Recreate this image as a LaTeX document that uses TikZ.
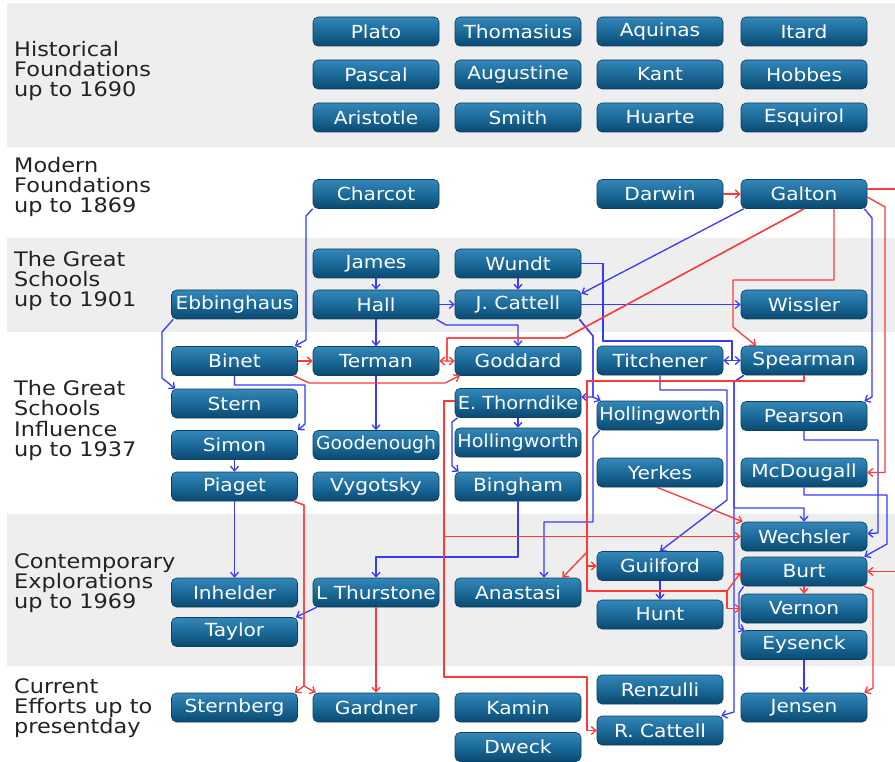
\documentclass[tikz,border=0pt]{standalone}
\usepackage{fontspec}
\setmainfont[FakeStretch=1.12]{DejaVu Sans}
\usepackage{graphicx}
\usetikzlibrary{arrows.meta}

\definecolor{bandgray}{HTML}{EEEEEE}
\definecolor{boxtop}{HTML}{3487B8}
\definecolor{boxmid}{HTML}{1B6A9A}
\definecolor{boxbot}{HTML}{0A4970}
\definecolor{boxedge}{HTML}{0B4062}
\definecolor{linkblue}{HTML}{3838FF}
\definecolor{linkred}{HTML}{FF3838}
\definecolor{labeltext}{HTML}{222222}

\begin{document}
\begin{tikzpicture}[x=1pt,y=-1pt,
  person/.style={rectangle, rounded corners=5pt, minimum width=126pt,
    minimum height=29pt, inner sep=0pt, top color=boxtop, bottom color=boxbot,
    middle color=boxmid, draw=boxedge, line width=0.6pt, text=white,
    font=\fontsize{18}{20}\selectfont},
  era/.style={anchor=base west, inner sep=0pt, text=labeltext,
    font=\fontsize{20}{20}\selectfont},
  link/.style={line width=1.3pt, line join=round,
    -{Straight Barb[length=4.5pt,width=8pt]}},
  bl/.style={link, draw=linkblue},
  rd/.style={link, draw=linkred}]

\useasboundingbox (0,0) rectangle (895,762);

% period bands
\fill[bandgray] (7,3) rectangle (895,147);
\fill[bandgray] (7,238) rectangle (895,332);
\fill[bandgray] (7,514) rectangle (895,666);

% period labels
\node[era] (h1) at (14,57) {Historical};
\node[era] (h2) at (14,77) {Foundations};
\node[era] (h3) at (14,97) {up to 1690};
\node[era] (m1) at (14,173) {Modern};
\node[era] (m2) at (14,193) {Foundations};
\node[era] (m3) at (14,213) {up to 1869};
\node[era] (g1) at (14,267) {The Great};
\node[era] (g2) at (14,287) {Schools};
\node[era] (g3) at (14,307) {up to 1901};
\node[era] (i1) at (14,395) {The Great};
\node[era] (i2) at (14,415) {Schools};
\node[era] (i3) at (14,436) {Influence};
\node[era] (i4) at (14,456) {up to 1937};
\node[era] (c1) at (14,568) {Contemporary};
\node[era] (c2) at (14,588) {Explorations};
\node[era] (c3) at (14,608) {up to 1969};
\node[era] (p1) at (14,693) {Current};
\node[era] (p2) at (14,713) {Efforts up to};
\node[era] (p3) at (14,733) {presentday};

% historical foundations
\node[person] (plato) at (376,31.5) {Plato};
\node[person] (thomasius) at (518,31.5) {Thomasius};
\node[person] (aquinas) at (660,31.5) {Aquinas};
\node[person] (itard) at (804,31.5) {Itard};
\node[person] (pascal) at (376,74.5) {Pascal};
\node[person] (augustine) at (518,74.5) {Augustine};
\node[person] (kant) at (660,74.5) {Kant};
\node[person] (hobbes) at (804,74.5) {Hobbes};
\node[person] (aristotle) at (376,117.5) {Aristotle};
\node[person] (smith) at (518,117.5) {Smith};
\node[person] (huarte) at (660,117.5) {Huarte};
\node[person] (esquirol) at (804,117.5) {Esquirol};

% modern foundations
\node[person] (charcot) at (376,194) {Charcot};
\node[person] (darwin) at (660,194) {Darwin};
\node[person] (galton) at (804,194) {Galton};

% great schools
\node[person] (james) at (376,263.5) {James};
\node[person] (wundt) at (518,263.5) {Wundt};
\node[person] (ebbinghaus) at (234.5,304.5) {Ebbinghaus};
\node[person] (hall) at (376,304.5) {Hall};
\node[person] (jcattell) at (518,304.5) {J. Cattell};
\node[person] (wissler) at (804,304.5) {Wissler};

% influence
\node[person] (binet) at (234.5,361) {Binet};
\node[person] (terman) at (376,361) {Terman};
\node[person] (goddard) at (518,361) {Goddard};
\node[person] (titchener) at (660,360.5) {Titchener};
\node[person] (spearman) at (804,360.5) {Spearman};
\node[person] (stern) at (234.5,403.5) {Stern};
\node[person] (ethorndike) at (518,403) {\scalebox{0.96}[1]{E. Thorndike}};
\node[person] (hollD) at (660,415.5) {\scalebox{0.95}[1]{Hollingworth}};
\node[person] (pearson) at (804,416) {Pearson};
\node[person] (simon) at (234.5,445) {Simon};
\node[person] (goodenough) at (376,445) {\scalebox{0.93}[1]{Goodenough}};
\node[person] (hollC) at (518,442.5) {\scalebox{0.95}[1]{Hollingworth}};
\node[person] (piaget) at (234.5,486.5) {Piaget};
\node[person] (vygotsky) at (376,486.5) {Vygotsky};
\node[person] (bingham) at (518,486.5) {Bingham};
\node[person] (yerkes) at (660,472.5) {Yerkes};
\node[person] (mcdougall) at (804,472.5) {McDougall};

% contemporary
\node[person] (wechsler) at (804,536.5) {Wechsler};
\node[person] (burt) at (804,571.5) {Burt};
\node[person] (guilford) at (660,566) {Guilford};
\node[person] (hunt) at (660,614.5) {Hunt};
\node[person] (vernon) at (804,608.5) {Vernon};
\node[person] (eysenck) at (804,645) {Eysenck};
\node[person] (inhelder) at (234.5,592.5) {Inhelder};
\node[person] (thurstone) at (376,592.5) {L Thurstone};
\node[person] (anastasi) at (518,592.5) {Anastasi};
\node[person] (taylor) at (234.5,632) {Taylor};

% current
\node[person] (sternberg) at (234.5,707.5) {Sternberg};
\node[person] (gardner) at (376,707.5) {Gardner};
\node[person] (kamin) at (518,707.5) {Kamin};
\node[person] (dweck) at (518,747) {Dweck};
\node[person] (renzulli) at (660,689.5) {Renzulli};
\node[person] (rcattell) at (660,730.5) {R. Cattell};
\node[person] (jensen) at (804,707.5) {Jensen};

% blue links
\draw[bl] (charcot.south west) -- (306,216) -- (306,340) -- ([xshift=-3pt]binet.north east);
\draw[bl] (james.south) -- (hall.north);
\draw[bl] (wundt.south) -- (jcattell.north);
\draw[bl] (hall.east) -- (jcattell.west);
\draw[bl] ([xshift=-3pt]hall.south east) -- (446,325) -- (518,325) -- (goddard.north);
\draw[bl] (hall.south) -- (terman.north);
\draw[bl] ([xshift=3pt]galton.south west) -- ([yshift=-4pt]jcattell.north east);
\draw[bl] (wundt.east) -- (603,263.5) -- (603,341) -- (732,341) -- (732,360.5) -- (titchener.east);
\draw[bl] (wundt.east) -- (603,263.5) -- (603,341) -- (732,341) -- (732,360.5) -- (spearman.west);
\draw[bl] (jcattell.east) -- (wissler.west);
\draw[bl] ([xshift=-2pt]jcattell.south east) -- (593,336) -- (593,397) -- ([yshift=6pt]ethorndike.east);
\draw[bl] ([xshift=-2pt]jcattell.south east) -- (593,336) -- (593,397) -- ([xshift=4pt]hollD.north west);
\draw[bl] (ethorndike.south) -- (hollC.north);
\draw[bl] ([xshift=3pt]ethorndike.south west) -- (452,422) -- (452,466) -- ([xshift=4pt]bingham.north west);
\draw[bl] (terman.south) -- (goodenough.north);
\draw[bl] (binet.south) -- (234.5,385) -- (305,385) -- (305,424) -- (simon.north east);
\draw[bl] ([xshift=2pt]ebbinghaus.south west) -- (162,332) -- (162,378) -- ([xshift=4pt]stern.north west);
\draw[bl] (simon.south) -- (piaget.north);
\draw[bl] (piaget.south) -- (inhelder.north);
\draw[bl] (bingham.south) -- (518,557) -- (376,557) -- (thurstone.north);
\draw[bl] ([xshift=4pt]thurstone.south west) -- ([xshift=-2pt]taylor.north east);
\draw[bl] (titchener.south) -- (660,390) -- (727,390) -- (727,500) -- (guilford.north);
\draw[bl] ([xshift=3pt]spearman.south west) -- (734,382) -- (734,712) -- ([xshift=-2pt]rcattell.north east);
\draw[bl] ([xshift=3pt]spearman.south west) -- (734,382) -- (734,508) -- (804,508) -- (wechsler.north);
\draw[bl] ([xshift=-3pt]galton.south east) -- (872,218) -- (872,397) -- ([xshift=-3pt]pearson.north east);
\draw[bl] (pearson.south) -- (804,440) -- (878,440) -- (878,533) -- ([yshift=3pt]wechsler.east);
\draw[bl] (mcdougall.south) -- (804,495) -- (887,495) -- (887,544) -- ([xshift=-3pt]burt.north east);
\draw[bl] (guilford.south) -- (hunt.north);
\draw[bl] ([xshift=3pt]burt.south west) -- (739,593) -- (739,628) -- ([xshift=4pt]eysenck.north west);
\draw[bl] (eysenck.south) -- (jensen.north);
\draw[bl] ([xshift=3pt]hollD.south west) -- (593,438) -- (593,522) -- (544,522) -- ([xshift=26pt]anastasi.north);

% red links
\draw[rd] (darwin.east) -- (galton.west);
\draw[rd] (galton.south) -- (565,338) -- (447,338) -- (447,361) -- (terman.east);
\draw[rd] (galton.south) -- (565,338) -- (447,338) -- (447,361) -- (goddard.west);
\draw[rd] ([xshift=30pt]galton.south) -- (834,280) -- (733,280) -- (733,327) -- ([xshift=-48pt]spearman.north);
\draw[rd] ([yshift=-3pt]galton.east) -- (885,207) -- (885,472.5) -- (mcdougall.east);
\draw[rd] ([yshift=5pt]galton.east) -- (905,189) -- (905,571.5) -- (burt.east);
\draw[rd] (binet.east) -- (terman.west);
\draw[rd] ([xshift=-4pt]binet.south east) -- (309,383) -- (445,383) -- ([xshift=5pt]goddard.south west);
\draw[rd] (spearman.south) -- (804,381) -- (587,381) -- (587,552) -- ([xshift=-19pt]anastasi.north east);
\draw[rd] (spearman.south) -- (804,381) -- (587,381) -- (587,566) -- (guilford.west);
\draw[rd] (spearman.south) -- (804,381) -- (587,381) -- (587,591) -- (727,591) -- ([yshift=-1pt]burt.west);
\draw[rd] (spearman.south) -- (804,381) -- (587,381) -- (587,591) -- (727,591) -- (727,608.5) -- (vernon.west);
\draw[rd] ([yshift=2pt]ethorndike.west) -- (444,401) -- (444,536.5) -- (wechsler.west);
\draw[rd] ([yshift=2pt]ethorndike.west) -- (444,401) -- (444,677) -- (587,677) -- (587,730.5) -- (rcattell.west);
\draw[rd] ([xshift=-3pt]yerkes.south) -- ([xshift=2pt]wechsler.north west);
\draw[rd] (burt.south) -- (vernon.north);
\draw[rd] ([xshift=-3pt]burt.south east) -- (873,590) -- (873,688) -- ([xshift=-3pt]jensen.north east);
\draw[rd] ([xshift=-4pt]piaget.south east) -- (304,505) -- (304,686) -- ([xshift=-3pt]sternberg.north east);
\draw[rd] ([xshift=-4pt]piaget.south east) -- (304,505) -- (304,686) -- ([xshift=3pt]gardner.north west);
\draw[rd] (thurstone.south) -- (gardner.north);

\end{tikzpicture}
\end{document}
